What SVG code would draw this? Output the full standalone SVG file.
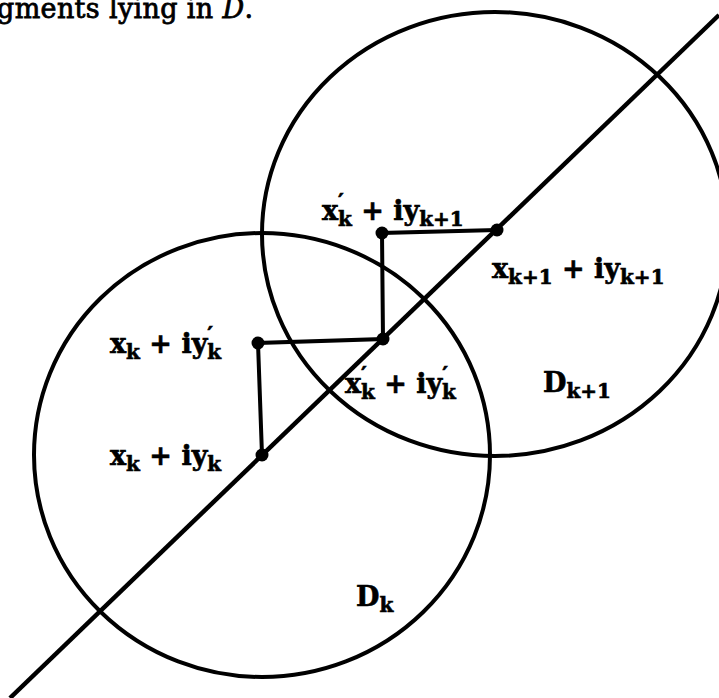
<svg xmlns="http://www.w3.org/2000/svg" width="719" height="698" viewBox="0 0 719 698">
<style>
.bg{fill:#ffffff}
.ring{fill:none;stroke:#000;stroke-width:4}
.ln{fill:none;stroke:#000;stroke-width:4.5;stroke-linecap:butt}
.seg{fill:none;stroke:#000;stroke-width:4;stroke-linecap:round}
.dot{fill:#000}
.lbl{font-family:"DejaVu Serif","Liberation Serif",serif;font-weight:bold;font-size:27px;fill:#000;stroke:#000;stroke-width:0.6}
.sub{font-size:20px}
.sup{font-size:22px}
.cap{font-family:"DejaVu Serif","Liberation Serif",serif;font-size:27px;fill:#000;stroke:#000;stroke-width:0.8}
</style>
<rect class="bg" x="0" y="0" width="719" height="698"/>
<text class="cap" x="-3" y="18" textLength="256">gments lying in <tspan font-style="italic">D</tspan>.</text>
<g id="disk-k1">
<ellipse class="ring" cx="495" cy="234" rx="233" ry="222"/>
</g>
<g id="disk-k">
<ellipse class="ring" cx="262" cy="455" rx="228" ry="222"/>
</g>
<g id="connectors">
<line class="ln" x1="10" y1="698" x2="719" y2="15"/>
<polyline class="seg" points="262,455 258,343 383,339 382,233 497,230"/>
</g>
<g id="p0"><circle class="dot" cx="262" cy="455" r="6.5"/></g>
<g id="p1"><circle class="dot" cx="258" cy="343" r="6.5"/></g>
<g id="p2"><circle class="dot" cx="383" cy="339" r="6.5"/></g>
<g id="p3"><circle class="dot" cx="382" cy="233" r="6.5"/></g>
<g id="p4"><circle class="dot" cx="497" cy="230" r="6.5"/></g>
<g id="labels">
<text class="lbl" x="322" y="220">x<tspan class="sup" dy="-11">′</tspan><tspan class="sub" dx="-6" dy="17">k</tspan><tspan dy="-6"> + iy</tspan><tspan class="sub" dy="6">k+1</tspan></text>
<text class="lbl" x="492" y="278">x<tspan class="sub" dy="6">k+1</tspan><tspan dy="-6"> + iy</tspan><tspan class="sub" dy="6">k+1</tspan></text>
<text class="lbl" x="110" y="353">x<tspan class="sub" dy="6">k</tspan><tspan dy="-6"> + iy</tspan><tspan class="sup" dy="-11">′</tspan><tspan class="sub" dx="-6" dy="17">k</tspan></text>
<text class="lbl" x="345" y="393">x<tspan class="sup" dy="-11">′</tspan><tspan class="sub" dx="-6" dy="17">k</tspan><tspan dy="-6"> + iy</tspan><tspan class="sup" dy="-11">′</tspan><tspan class="sub" dx="-6" dy="17">k</tspan></text>
<text class="lbl" x="110" y="465">x<tspan class="sub" dy="6">k</tspan><tspan dy="-6"> + iy</tspan><tspan class="sub" dy="6">k</tspan></text>
<text class="lbl" x="543" y="392">D<tspan class="sub" dy="6">k+1</tspan></text>
<text class="lbl" x="356" y="606">D<tspan class="sub" dy="6">k</tspan></text>
</g>
</svg>
